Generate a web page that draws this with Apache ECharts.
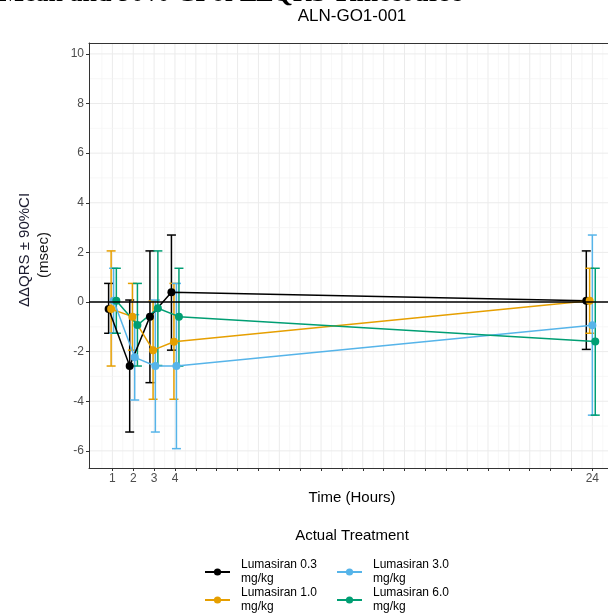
<!DOCTYPE html>
<html><head><meta charset="utf-8">
<script src="https://cdn.jsdelivr.net/npm/echarts@6/dist/echarts.min.js"></script>
<style>html,body{margin:0;padding:0;background:#fff}#c{width:608px;height:615px}</style>
</head><body><div id="c"></div>
<script>
// ---- data ----
const seriesNames = ['Lumasiran 0.3 mg/kg', 'Lumasiran 1.0 mg/kg', 'Lumasiran 3.0 mg/kg', 'Lumasiran 6.0 mg/kg'];
const colors = ['#000000', '#E69F00', '#56B4E9', '#009E73'];

const timeBlack = [0.82, 1.83, 2.80, 3.83, 23.71];
const meanBlack = [-0.28, -2.58, -0.59, 0.39, 0.05];
const lowBlack  = [-1.26, -5.24, -3.25, -1.94, -1.91];
const highBlack = [0.75, 0.08, 2.06, 2.70, 2.06];

const timeOrange = [0.94, 1.96, 2.95, 3.95, 23.87];
const meanOrange = [-0.28, -0.59, -1.94, -1.60, 0.05];
const lowOrange  = [-2.58, -1.94, -3.92, -3.92, -1.26];
const highOrange = [2.06, 0.75, 0.04, 0.75, 1.36];

const timeBlue = [1.06, 2.07, 3.06, 4.07, 24.00];
const meanBlue = [0.05, -2.23, -2.58, -2.58, -0.94];
const lowBlue  = [-1.26, -3.95, -5.24, -5.91, -4.56];
const highBlue = [1.36, -0.51, 0.08, 0.75, 2.70];

const timeGreen = [1.19, 2.20, 3.18, 4.19, 24.14];
const meanGreen = [0.05, -0.93, -0.25, -0.59, -1.59];
const lowGreen  = [-1.26, -2.58, -2.56, -2.58, -4.56];
const highGreen = [1.36, 0.75, 2.06, 1.36, 1.36];

const xTicks = [1,2,3,4,5,6,7,8,9,10,11,12,13,14,15,16,17,18,19,20,21,22,23,24];
const xTickLabels = [1, 2, 3, 4, 24];
const xMinorGrid = [0.5,1.5,2.5,3.5,4.5,5.5,6.5,7.5,8.5,9.5,10.5,11.5,12.5,13.5,14.5,15.5,16.5,17.5,18.5,19.5,20.5,21.5,22.5,23.5,24.5];
const yTicks = [-6, -4, -2, 0, 2, 4, 6, 8, 10];
const yMinorGrid = [-5, -3, -1, 1, 3, 5, 7, 9];

const times = [timeBlack, timeOrange, timeBlue, timeGreen];
const means = [meanBlack, meanOrange, meanBlue, meanGreen];
const lows = [lowBlack, lowOrange, lowBlue, lowGreen];
const highs = [highBlack, highOrange, highBlue, highGreen];

// ---- chart ----
const FONT = '"Liberation Sans", Arial, sans-serif';
const chart = echarts.init(document.getElementById('c'), null, {renderer: 'canvas'});

function vGrid(params, api) {
  const cs = params.coordSys;
  const px = api.coord([api.value(0), 0])[0];
  const major = api.value(1) === 1;
  return {type: 'line', shape: {x1: px, y1: cs.y, x2: px, y2: cs.y + cs.height},
    style: {stroke: major ? '#EBEBEB' : '#F3F3F3', lineWidth: major ? 1 : 0.7}};
}
function hGrid(params, api) {
  const cs = params.coordSys;
  const py = api.coord([0, api.value(0)])[1];
  const major = api.value(1) === 1;
  return {type: 'line', shape: {x1: cs.x, y1: py, x2: cs.x + cs.width, y2: py},
    style: {stroke: major ? '#EBEBEB' : '#F3F3F3', lineWidth: major ? 1 : 0.7}};
}
function errBar(params, api) {
  const x = api.value(0), lo = api.value(1), hi = api.value(2);
  const p1 = api.coord([x, hi]), p2 = api.coord([x, lo]);
  const w = 4.5;
  const style = {stroke: api.visual('color'), lineWidth: 1.5};
  return {type: 'group', children: [
    {type: 'line', shape: {x1: p1[0], y1: p1[1], x2: p2[0], y2: p2[1]}, style: style},
    {type: 'line', shape: {x1: p1[0] - w, y1: p1[1], x2: p1[0] + w, y2: p1[1]}, style: style},
    {type: 'line', shape: {x1: p2[0] - w, y1: p2[1], x2: p2[0] + w, y2: p2[1]}, style: style}
  ]};
}

const series = [];
series.push({type: 'custom', name: 'vgrid', silent: true, z: 0, clip: true,
  renderItem: vGrid,
  data: xTicks.map(v => [v, 1]).concat(xMinorGrid.map(v => [v, 0]))});
series.push({type: 'custom', name: 'hgrid', silent: true, z: 0, clip: true,
  renderItem: hGrid,
  data: yTicks.map(v => [v, 1]).concat(yMinorGrid.map(v => [v, 0]))});

for (let i = 0; i < 4; i++) {
  series.push({type: 'custom', name: 'err' + i, z: 2, silent: true,
    itemStyle: {color: colors[i]},
    renderItem: errBar,
    data: times[i].map((t, k) => [t, lows[i][k], highs[i][k]])});
}
for (let i = 0; i < 4; i++) {
  const s = {type: 'line', name: seriesNames[i], z: 3,
    symbol: 'circle', symbolSize: 8, showSymbol: true,
    itemStyle: {color: colors[i]}, lineStyle: {color: colors[i], width: 1.5},
    data: times[i].map((t, k) => [t, means[i][k]])};
  if (i === 0) {
    s.markLine = {silent: true, symbol: 'none', label: {show: false},
      lineStyle: {color: '#000', width: 1.5, type: 'solid'},
      animation: false, data: [{yAxis: 0}]};
  }
  series.push(s);
}

const legendCommon = {
  orient: 'vertical', itemWidth: 25, itemHeight: 9, itemGap: 0, padding: 0,
  selectedMode: false,
  textStyle: {fontFamily: FONT, fontSize: 12, lineHeight: 14, color: '#000', padding: [0, 0, 0, 6]},
  formatter: n => n.replace(' mg/kg', '\nmg/kg')
};

const borderLine = {show: true, onZero: false, lineStyle: {color: '#333', width: 1}};

chart.setOption({
  animation: false,
  backgroundColor: '#fff',
  grid: {left: 89, top: 43, right: 0, height: 425, show: false},
  xAxis: [
    {type: 'value', min: -0.12, max: 24.75, position: 'bottom',
      splitLine: {show: false}, axisLine: borderLine,
      axisTick: {show: true, length: 3, customValues: xTicks, lineStyle: {color: '#333'}},
      axisLabel: {customValues: xTickLabels, color: '#4D4D4D', fontSize: 12, fontFamily: FONT, margin: 5}},
    {type: 'value', min: -0.12, max: 24.75, position: 'top',
      splitLine: {show: false}, axisLine: borderLine, axisTick: {show: false}, axisLabel: {show: false}}
  ],
  yAxis: {type: 'value', min: -6.69, max: 10.44,
    splitLine: {show: false}, axisLine: borderLine,
    axisTick: {show: true, length: 3, customValues: yTicks, lineStyle: {color: '#333'}},
    axisLabel: {customValues: yTicks, color: '#4D4D4D', fontSize: 12, fontFamily: FONT, margin: 5}},
  legend: [
    Object.assign({left: 204, top: 558, data: [seriesNames[0], seriesNames[1]]}, legendCommon),
    Object.assign({left: 336, top: 558, data: [seriesNames[2], seriesNames[3]]}, legendCommon)
  ],
  graphic: [
    {type: 'text', x: 462, y: 7, style: {text: 'Mean and 90% CI of ΔΔQRS Timecourse', align: 'right', verticalAlign: 'bottom',
      font: 'bold 26px "Liberation Serif", "Times New Roman", serif', fill: '#000'}},
    {type: 'text', x: 352, y: 16, style: {text: 'ALN-GO1-001', align: 'center', verticalAlign: 'middle',
      font: '17px ' + FONT, fill: '#000'}},
    {type: 'text', x: 352, y: 498, style: {text: 'Time (Hours)', align: 'center', verticalAlign: 'middle',
      font: '15px ' + FONT, fill: '#000'}},
    {type: 'text', x: 352, y: 536, style: {text: 'Actual Treatment', align: 'center', verticalAlign: 'middle',
      font: '15px ' + FONT, fill: '#000'}},
    {type: 'text', x: 25, y: 250, rotation: Math.PI / 2, style: {text: 'ΔΔQRS ± 90%CI', align: 'center', verticalAlign: 'middle',
      font: '15px ' + FONT, fill: '#1a1a2e'}},
    {type: 'text', x: 44, y: 255, rotation: Math.PI / 2, style: {text: '(msec)', align: 'center', verticalAlign: 'middle',
      font: '15px ' + FONT, fill: '#1a1a1a'}}
  ],
  series: series
});
</script></body></html>
